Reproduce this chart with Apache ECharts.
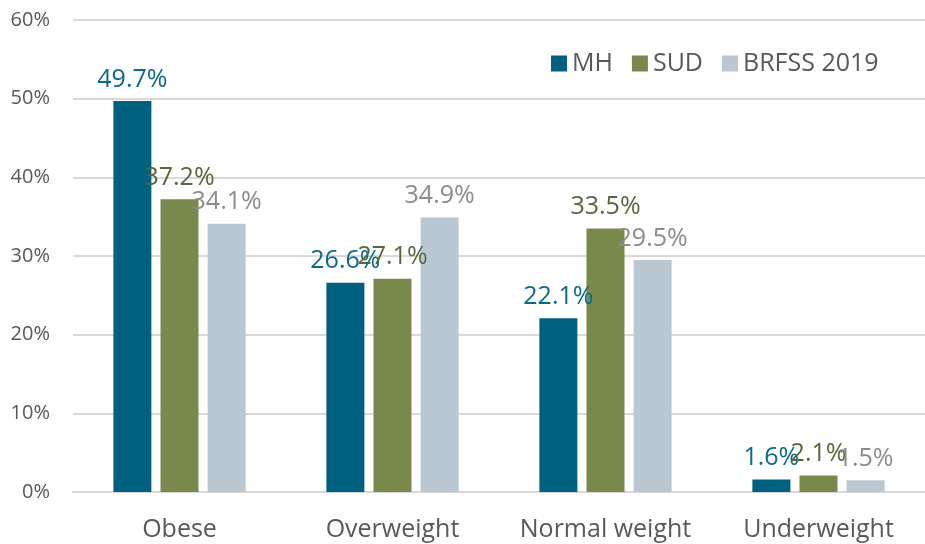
<!DOCTYPE html>
<html>
<head>
<meta charset="utf-8">
<script src="https://cdn.jsdelivr.net/npm/echarts@6/dist/echarts.min.js"></script>
<style>
  html, body { margin: 0; padding: 0; background: #fff; }
  #chart { width: 925px; height: 544px; }
</style>
</head>
<body>
<div id="chart"></div>
<script>
const CATEGORIES = ['Obese', 'Overweight', 'Normal weight', 'Underweight'];
const MH = [49.7, 26.6, 22.1, 1.6];
const SUD = [37.2, 27.1, 33.5, 2.1];
const BRFSS = [34.1, 34.9, 29.5, 1.5];
const Y_TICKS = [0, 10, 20, 30, 40, 50, 60];

const FONT = '"Open Sans", "Noto Sans", sans-serif';

function barSeries(name, data, color, labelColor) {
    return {
        name,
        type: 'bar',
        data,
        barWidth: 38,
        barGap: '24%',
        itemStyle: { color },
        label: {
            show: true,
            position: 'top',
            distance: 9,
            formatter: p => p.value.toFixed(1) + '%',
            color: labelColor,
            fontFamily: FONT,
            fontSize: 25,
        },
    };
}

const chart = echarts.init(document.getElementById('chart'), null, { renderer: 'canvas' });
chart.setOption({
    animation: false,
    grid: { left: 73, right: 0, top: 20, bottom: 52, containLabel: false },
    legend: {
        left: 546,
        top: 46,
        itemWidth: 16,
        itemHeight: 16,
        itemGap: 19,
        icon: 'rect',
        textStyle: { color: '#595959', fontFamily: FONT, fontSize: 25 },
        data: ['MH', 'SUD', 'BRFSS 2019'],
    },
    xAxis: {
        type: 'category',
        data: CATEGORIES,
        axisLine: { lineStyle: { color: '#d9d9d9', width: 2 } },
        axisTick: { show: false },
        axisLabel: { interval: 0, color: '#595959', fontFamily: FONT, fontSize: 25, margin: 25 },
    },
    yAxis: {
        type: 'value',
        min: Y_TICKS[0],
        max: Y_TICKS[Y_TICKS.length - 1],
        interval: 10,
        axisLine: { show: false },
        axisTick: { show: false },
        splitLine: { lineStyle: { color: '#d9d9d9', width: 2 } },
        axisLabel: {
            formatter: v => v + '%',
            color: '#595959',
            fontFamily: FONT,
            fontSize: 20,
            margin: 23,
        },
    },
    series: [
        barSeries('MH', MH, '#00607f', '#0b6a88'),
        barSeries('SUD', SUD, '#78894b', '#56683a'),
        barSeries('BRFSS 2019', BRFSS, '#bac8d3', '#8c8c8c'),
    ],
});
</script>
</body>
</html>
